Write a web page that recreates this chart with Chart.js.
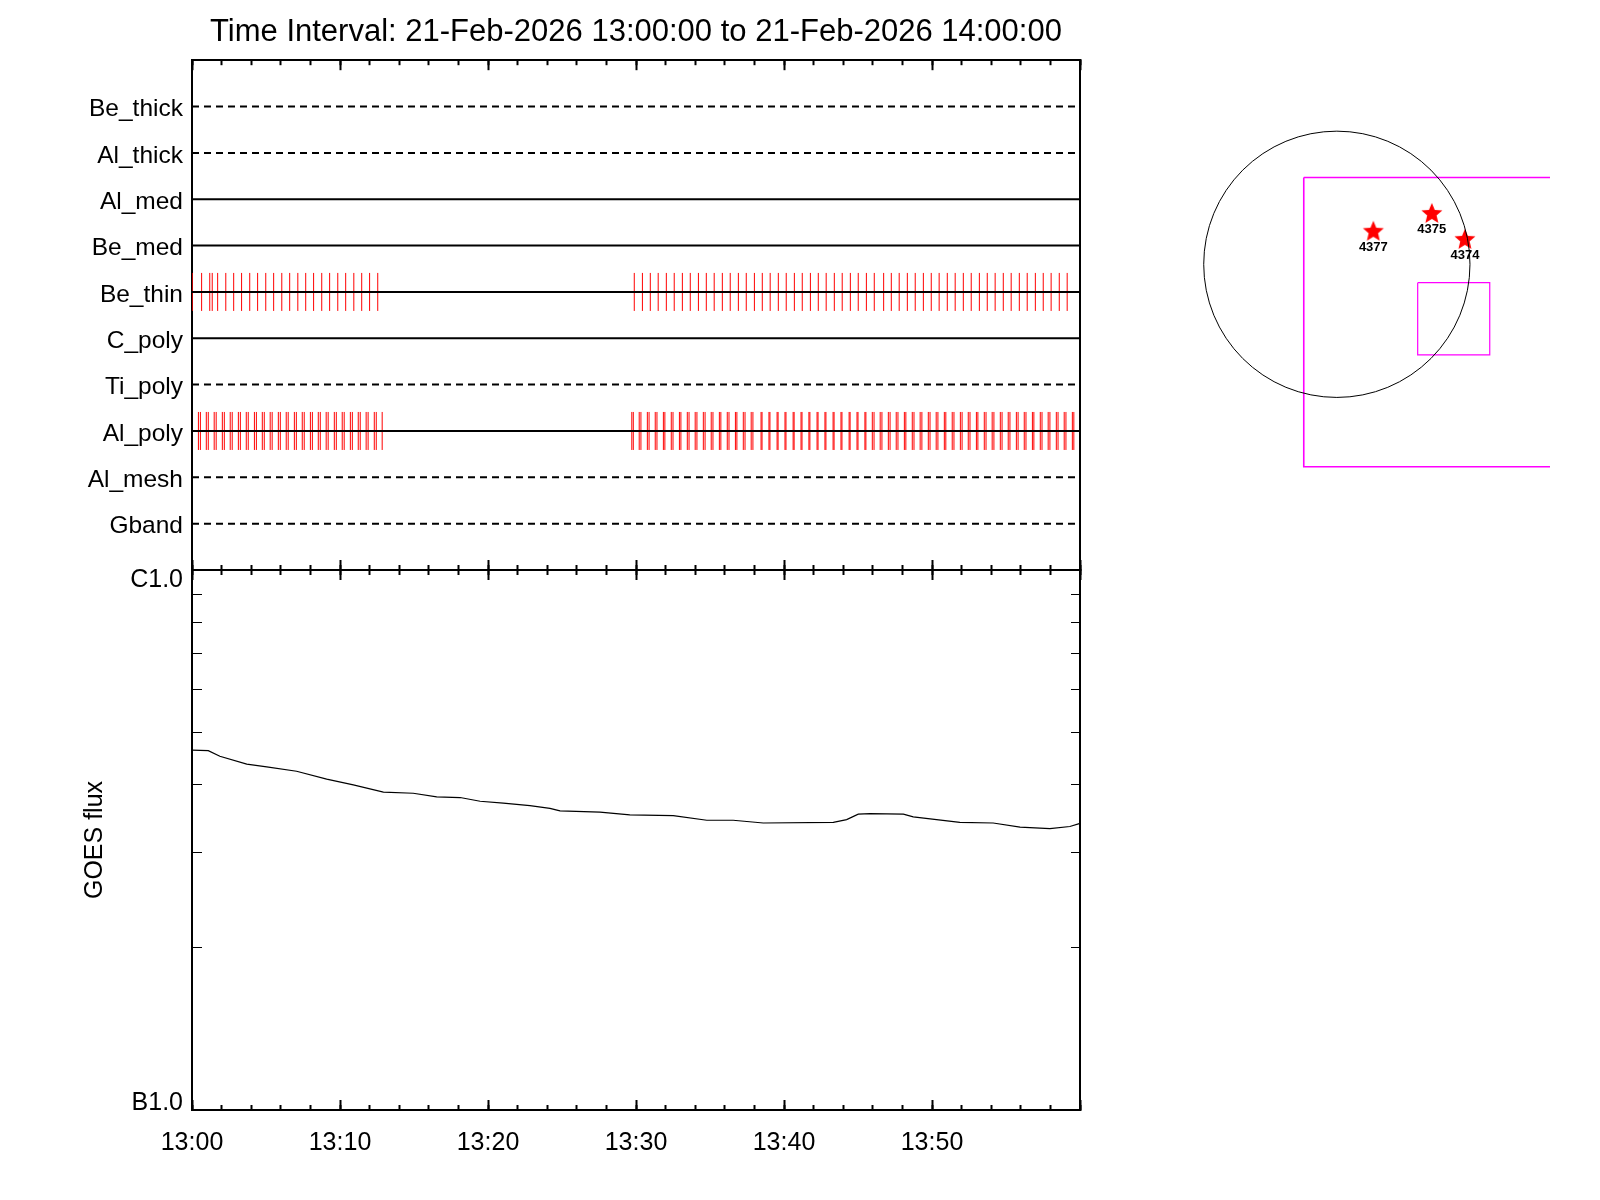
<!DOCTYPE html>
<html>
<head>
<meta charset="utf-8">
<script src="https://cdn.jsdelivr.net/npm/chart.js@4.4.1/dist/chart.umd.min.js"></script>
<style>
  html, body { margin: 0; padding: 0; background: #fff; }
  #wrap { position: relative; width: 1600px; height: 1200px; }
  canvas { position: absolute; }
  #topChart { left: 0; top: 0; }
  #goesChart { left: 0; top: 500px; }
  #sunChart { left: 1160px; top: 100px; }
</style>
</head>
<body>
<div id="wrap">
  <canvas id="topChart" width="1272" height="600"></canvas>
  <canvas id="goesChart" width="1272" height="700"></canvas>
  <canvas id="sunChart" width="395" height="400"></canvas>
</div>
<script>
// title
const titleText = 'Time Interval: 21-Feb-2026 13:00:00 to 21-Feb-2026 14:00:00';

// filter channels (top to bottom), and whether the channel line is solid
const channelNames = ['Be_thick', 'Al_thick', 'Al_med', 'Be_med', 'Be_thin', 'C_poly', 'Ti_poly', 'Al_poly', 'Al_mesh', 'Gband'];
const channelActive = [false, false, true, true, true, true, false, true, false, false];

// exposure times, seconds after 13:00:00
const beThinTimes = [1, 39, 72, 82, 104, 137, 169, 201, 234, 266, 299, 331, 364, 396, 429, 461, 493, 526, 558, 591, 623, 656, 688, 720, 753,
  1793, 1826, 1858, 1890, 1923, 1955, 1988, 2020, 2053, 2085, 2117, 2150, 2182, 2215, 2247, 2280, 2312, 2344, 2377, 2409, 2442, 2474,
  2507, 2539, 2571, 2604, 2636, 2669, 2701, 2734, 2766, 2804, 2835, 2867, 2900, 2932, 2965, 2997, 3029, 3062, 3094, 3127, 3159, 3192,
  3224, 3256, 3289, 3321, 3354, 3386, 3419, 3451, 3483, 3516, 3548];
const alPolyTimes = [26, 34, 58, 66, 90, 98, 123, 131, 155, 163, 188, 196, 220, 228, 253, 261, 285, 293, 317, 325, 350, 358, 382, 390,
  415, 423, 447, 455, 480, 488, 512, 520, 544, 552, 577, 585, 609, 617, 642, 650, 674, 682, 706, 714, 739, 747, 771,
  1783, 1789, 1813, 1820, 1846, 1853, 1878, 1885, 1911, 1917, 1943, 1950, 1976, 1982, 2008, 2015, 2040, 2047, 2073, 2080,
  2105, 2112, 2138, 2144, 2170, 2177, 2203, 2209, 2235, 2242, 2267, 2274,
  2307, 2311, 2339, 2343, 2372, 2376, 2404, 2408, 2437, 2441, 2469, 2473, 2501, 2505, 2534, 2538, 2566, 2570,
  2599, 2603, 2631, 2635, 2664, 2668, 2696, 2700, 2728, 2732,
  2758, 2765, 2790, 2797, 2823, 2830, 2855, 2862, 2888, 2894, 2920, 2927, 2952, 2959, 2985, 2992, 3017, 3024,
  3050, 3056, 3082, 3089, 3115, 3122, 3147, 3154, 3180, 3186, 3212, 3219, 3244, 3251, 3277, 3284, 3309, 3316,
  3342, 3349, 3374, 3381, 3407, 3413, 3439, 3446, 3471, 3478, 3504, 3511, 3536, 3543, 3569, 3575];

// GOES light curve (seconds after 13:00, W/m^2)
const goesTimes = [0, 66, 113, 222, 303, 424, 546, 654, 776, 897, 992, 1087, 1168, 1262, 1370, 1451, 1492, 1654, 1775,
  1951, 2087, 2194, 2316, 2600, 2654, 2701, 2749, 2884, 2924, 3113, 3248, 3357, 3478, 3559, 3597];
const goesFlux = [4.64e-7, 4.63e-7, 4.52e-7, 4.37e-7, 4.32e-7, 4.24e-7, 4.10e-7, 4.00e-7, 3.88e-7, 3.86e-7, 3.80e-7, 3.79e-7,
  3.73e-7, 3.70e-7, 3.66e-7, 3.62e-7, 3.58e-7, 3.56e-7, 3.52e-7, 3.51e-7, 3.44e-7, 3.44e-7, 3.40e-7, 3.41e-7, 3.45e-7,
  3.53e-7, 3.54e-7, 3.53e-7, 3.49e-7, 3.41e-7, 3.40e-7, 3.34e-7, 3.32e-7, 3.35e-7, 3.39e-7];

// axis ticks
const timeTickLabels = ['13:00', '13:10', '13:20', '13:30', '13:40', '13:50'];
const fluxTickValues = [1e-7, 2e-7, 3e-7, 4e-7, 5e-7, 6e-7, 7e-7, 8e-7, 9e-7, 1e-6];
const fluxLabelValues = [1e-7, 1e-6];
const fluxTickLabels = ['B1.0', 'C1.0'];

// solar context map (arcsec)
const limbRadius = 970;
const fovLargeX = [-241, 1900, 1900, -241, -241];
const fovLargeY = [632, 632, -1474, -1474, 632];
const fovSmallX = [589, 1114, 1114, 589, 589];
const fovSmallY = [-134, -134, -660, -660, -134];
const arLabels = ['4377', '4375', '4374'];
const arX = [266, 692, 933];
const arY = [237, 367, 178];

const FONT = '"Liberation Sans", Arial, Helvetica, sans-serif';

// ticks pointing into the plot: negative tick length, zero-height axis
function timeAxis(position, step, len, showBorder) {
  return {
    type: 'linear',
    position: position,
    weight: 0,
    min: 0,
    max: 3600,
    ticks: { display: false, stepSize: step, maxTicksLimit: 100 },
    grid: { display: true, drawOnChartArea: false, drawTicks: true, tickLength: len, tickColor: '#000', tickWidth: 2 },
    border: { display: showBorder, color: '#000', width: 2 },
    afterFit: s => { s.height = 0; },
  };
}

// right frame edge; its box takes the right margin so the title stays centred on the plot
function rightFrame(type, extra) {
  return Object.assign({
    type: type,
    position: 'right',
    ticks: { display: false },
    grid: { display: false, drawTicks: false },
    border: { display: true, color: '#000', width: 2 },
    afterFit: s => { s.width = 192; },
  }, extra);
}

const noPlugins = {
  legend: { display: false },
  tooltip: { enabled: false },
};

// ---------- upper panel: exposure timeline ----------
const rowSets = channelNames.map((name, i) => ({
  label: name,
  data: [{ x: 0, y: i + 1 }, { x: 3600, y: i + 1 }],
  showLine: true,
  borderColor: '#000',
  borderWidth: 2,
  borderDash: channelActive[i] ? [] : [7, 5],
  pointRadius: 0,
  order: 0,
}));

function exposureSet(label, times, row) {
  return {
    label: label,
    data: times.map(t => ({ x: t, y: row })),
    showLine: false,
    pointStyle: 'line',
    pointRotation: 90,
    pointRadius: 19,
    pointBorderColor: '#ff0000',
    pointBorderWidth: 1,
    order: 1,
  };
}

new Chart(document.getElementById('topChart'), {
  type: 'scatter',
  data: {
    datasets: rowSets.concat([
      exposureSet('Be_thin exp', beThinTimes, channelNames.indexOf('Be_thin') + 1),
      exposureSet('Al_poly exp', alPolyTimes, channelNames.indexOf('Al_poly') + 1),
    ]),
  },
  options: {
    responsive: false,
    animation: false,
    events: [],
    layout: { padding: { left: 0, right: 0, top: 0, bottom: 30 } },
    scales: {
      x: timeAxis('bottom', 600, -10, true),
      xm: timeAxis('bottom', 120, -5, false),
      xt: timeAxis('top', 600, -10, true),
      xtm: timeAxis('top', 120, -5, false),
      y: {
        type: 'linear',
        position: 'left',
        min: 0,
        max: 11,
        reverse: true,
        afterBuildTicks: s => { s.ticks = channelNames.map((n, i) => ({ value: i + 1 })); },
        ticks: {
          autoSkip: false,
          callback: v => channelNames[v - 1],
          font: { family: FONT, size: 24.5 },
          color: '#000',
          padding: 9,
          labelOffset: 3,
        },
        grid: { display: false, drawTicks: false },
        border: { display: true, color: '#000', width: 2 },
        afterFit: s => { s.width = 192; },
      },
      yr: rightFrame('linear', { min: 0, max: 11 }),
    },
    plugins: Object.assign({
      title: {
        display: true,
        text: titleText,
        color: '#000',
        font: { family: FONT, size: 31, weight: 'normal' },
        padding: { top: 14, bottom: 9 },
      },
    }, noPlugins),
  },
});

// ---------- lower panel: GOES flux ----------
const labelAxis = timeAxis('bottom', 600, -10, true);
labelAxis.weight = 10;
labelAxis.ticks = {
  display: true,
  stepSize: 600,
  maxTicksLimit: 100,
  autoSkip: false,
  maxRotation: 0,
  minRotation: 0,
  callback: v => timeTickLabels[Math.round(v / 600)] || '',
  font: { family: FONT, size: 25 },
  color: '#000',
  padding: 28,
};
labelAxis.afterFit = s => { s.height = 60; };

// the end labels sit slightly inside the frame: a blank second line with a set line height shifts them
function fluxLabel(v) {
  const k = fluxLabelValues.indexOf(v);
  if (k < 0) return '';
  return v === fluxLabelValues[1] ? ['', fluxTickLabels[k]] : [fluxTickLabels[k], ''];
}

new Chart(document.getElementById('goesChart'), {
  type: 'scatter',
  data: {
    datasets: [{
      label: 'GOES flux',
      data: goesTimes.map((t, i) => ({ x: t, y: goesFlux[i] })),
      showLine: true,
      borderColor: '#000',
      borderWidth: 1.2,
      pointRadius: 0,
    }],
  },
  options: {
    responsive: false,
    animation: false,
    events: [],
    layout: { padding: { left: 0, right: 0, top: 70, bottom: 30 } },
    scales: {
      x: labelAxis,
      xm: timeAxis('bottom', 120, -5, false),
      xt: timeAxis('top', 600, -10, true),
      xtm: timeAxis('top', 120, -5, false),
      y: {
        type: 'logarithmic',
        position: 'left',
        min: 1e-7,
        max: 1e-6,
        afterBuildTicks: s => { s.ticks = fluxTickValues.map(v => ({ value: v })); },
        ticks: {
          autoSkip: false,
          callback: v => fluxLabel(v),
          font: c => ({ family: FONT, size: 25, lineHeight: c.index === fluxTickValues.length - 1 ? '20px' : '14px' }),
          color: '#000',
          padding: 19,
        },
        grid: { display: true, drawOnChartArea: false, drawTicks: true, tickLength: -10, tickColor: '#000', tickWidth: 1 },
        border: { display: true, color: '#000', width: 2 },
        title: {
          display: true,
          text: 'GOES flux',
          color: '#000',
          font: { family: FONT, size: 25 },
          padding: { top: 80, bottom: 0 },
        },
        afterFit: s => { s.width = 192; },
      },
      yr: rightFrame('logarithmic', {
        min: 1e-7,
        max: 1e-6,
        afterBuildTicks: s => { s.ticks = fluxTickValues.map(v => ({ value: v })); },
        grid: { display: true, drawOnChartArea: false, drawTicks: true, tickLength: -9, tickColor: '#000', tickWidth: 1 },
      }),
    },
    plugins: noPlugins,
  },
});

// ---------- solar context map ----------
function makeStar(r) {
  const c = document.createElement('canvas');
  const size = Math.ceil(r * 2) + 2;
  c.width = size;
  c.height = size;
  const g = c.getContext('2d');
  g.fillStyle = '#ff0000';
  g.beginPath();
  for (let k = 0; k < 10; k++) {
    const rad = k % 2 ? r * 0.45 : r;
    const a = -Math.PI / 2 + k * Math.PI / 5;
    const px = size / 2 + rad * Math.cos(a);
    const py = size / 2 + rad * Math.sin(a);
    if (k) g.lineTo(px, py); else g.moveTo(px, py);
  }
  g.closePath();
  g.fill();
  return c;
}

const arLabelPlugin = {
  id: 'arLabels',
  afterDatasetsDraw(chart) {
    const meta = chart.getDatasetMeta(3);
    const ctx = chart.ctx;
    ctx.save();
    ctx.font = 'bold 13px ' + FONT;
    ctx.fillStyle = '#000';
    ctx.textAlign = 'center';
    ctx.textBaseline = 'middle';
    meta.data.forEach((pt, i) => ctx.fillText(arLabels[i], pt.x, pt.y + 16));
    ctx.restore();
  },
};

new Chart(document.getElementById('sunChart'), {
  type: 'scatter',
  data: {
    datasets: [
      {
        label: 'limb',
        data: [{ x: 0, y: 0 }],
        pointRadius: c => {
          const s = c.chart.scales.x;
          return s.getPixelForValue(limbRadius) - s.getPixelForValue(0);
        },
        pointBackgroundColor: 'rgba(0,0,0,0)',
        pointBorderColor: '#000',
        pointBorderWidth: 1,
      },
      {
        label: 'fov large',
        data: fovLargeX.map((x, i) => ({ x: x, y: fovLargeY[i] })),
        showLine: true,
        borderColor: '#ff00ff',
        borderWidth: 1.6,
        pointRadius: 0,
        clip: 0,
      },
      {
        label: 'fov small',
        data: fovSmallX.map((x, i) => ({ x: x, y: fovSmallY[i] })),
        showLine: true,
        borderColor: '#ff00ff',
        borderWidth: 1.2,
        pointRadius: 0,
        clip: 0,
      },
      {
        label: 'active regions',
        data: arX.map((x, i) => ({ x: x, y: arY[i] })),
        showLine: false,
        pointStyle: makeStar(11),
      },
    ],
  },
  options: {
    responsive: false,
    animation: false,
    events: [],
    layout: { padding: 0 },
    scales: {
      x: { type: 'linear', display: false, min: -1252, max: 1553 },
      y: { type: 'linear', display: false, min: -1680, max: 1160 },
    },
    plugins: noPlugins,
  },
  plugins: [arLabelPlugin],
});
</script>
</body>
</html>
